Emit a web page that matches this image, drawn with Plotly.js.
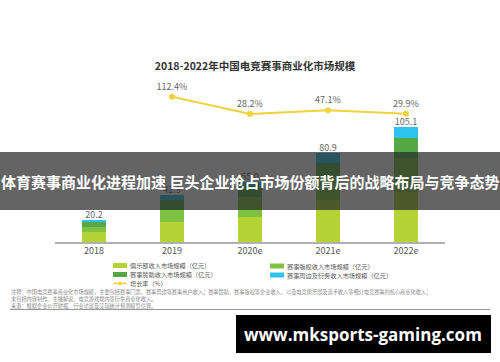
<!DOCTYPE html>
<html>
<head>
<meta charset="utf-8">
<script src="https://cdn.plot.ly/plotly-3.0.1.min.js"></script>
<style>html,body{margin:0;padding:0;background:#fff;}#chart{width:500px;height:362px;}</style>
</head>
<body>
<div id="chart"></div>
<script>
// ---- data ----
const categories = ['2018', '2019', '2020e', '2021e', '2022e'];
const clubRevenue = [9.0, 18.3, 22.8, 38.0, 46.1];
const copyrightRevenue = [5.0, 10.8, 18.3, 21.0, 31.0];
const sponsorRevenue = [4.6, 9.2, 10.5, 13.5, 18.0];
const merchRevenue = [1.6, 4.6, 3.4, 8.4, 10.0];
const totals = [20.2, 42.9, 55.0, 80.9, 105.1];
const growthRate = [null, 112.4, 28.2, 47.1, 29.9];
const seriesNames = ['俱乐部收入市场规模（亿元）', '赛事版权收入市场规模（亿元）', '赛事赞助收入市场规模（亿元）', '赛事周边及衍务收入市场规模（亿元）', '增长率（%）'];
const titleText = '2018-2022年中国电竞赛事商业化市场规模';
const bannerText = '体育赛事商业化进程加速 巨头企业抢占市场份额背后的战略布局与竞争态势';
const noteLines = [
  '注释：中国电竞赛事商业化市场规模，主要包括赛事门票、赛事周边等赛事用户收入；赛事赞助、赛事版权等企业收入，以及电竞俱乐部及选手收入等细分电竞赛事的核心商业化收入；',
  '未包括内容制作、主播解说、电竞游戏端内等衍生商业化收入。',
  '来源：根据企业公开财报、行业访谈及艾瑞统计预测模型估算。'
];
const watermark = 'www.mksports-gaming.com';

// ---- styles ----
const colors = ['#b5d334', '#7dc242', '#55a845', '#2ec4ee', '#f2d23c'];
const FONT = '"Noto Sans CJK SC", "Noto Sans", sans-serif';
const W = 500, H = 362, ML = 55, MR = 55, MT = 82, MB = 120;
const PW = W - ML - MR, PH = H - MT - MB;
const px = x => (x - ML) / PW;
const py = y => (H - MB - y) / PH;

const barSeries = [clubRevenue, copyrightRevenue, sponsorRevenue, merchRevenue];
const traces = barSeries.map((vals, i) => ({
  type: 'bar', x: categories, y: vals, name: seriesNames[i],
  marker: {color: colors[i]}, hoverinfo: 'x+y+name', showlegend: false
}));
traces.push({
  type: 'scatter', mode: 'text', x: categories, y: totals,
  text: totals.map(v => v.toFixed(1)), textposition: 'top center',
  textfont: {family: FONT, size: 9, color: '#666'}, showlegend: false, hoverinfo: 'skip'
});
traces.push({
  type: 'scatter', mode: 'lines+markers+text', x: categories, y: growthRate, yaxis: 'y2',
  name: seriesNames[4], line: {color: colors[4], width: 2}, marker: {color: colors[4], size: 6},
  text: growthRate.map(v => v == null ? '' : v.toFixed(1) + '%'), textposition: 'top center',
  textfont: {family: FONT, size: 9, color: '#666'}, showlegend: false, connectgaps: false
});

// y scales
const yPerPx = 1 / 1.095;
const yMax = PH * yPerPx;
const g0Px = 122.2, gScale = 0.205; // px from plot bottom of 0%, px per %
const y2Range = [-g0Px / gScale, (PH - g0Px) / gScale];

const shapes = [];
const annotations = [];
// banner overlay
shapes.push({type: 'rect', xref: 'paper', yref: 'paper', x0: px(0), x1: px(500), y0: py(210), y1: py(152),
  fillcolor: 'rgba(40,40,40,0.72)', line: {width: 0}, layer: 'above'});
annotations.push({xref: 'paper', yref: 'paper', x: px(250), y: py(181), text: '<b>' + bannerText + '</b>',
  showarrow: false, font: {family: FONT, size: 15, color: '#ffffff'}, xanchor: 'center', yanchor: 'middle'});

// legend (manual): two columns
const legendItems = [
  {i: 0, x: 113, y: 265.5}, {i: 2, x: 113, y: 274.5}, {i: 4, x: 113, y: 283.5},
  {i: 1, x: 270, y: 266}, {i: 3, x: 270, y: 275}
];
legendItems.forEach(it => {
  if (it.i < 4) {
    shapes.push({type: 'rect', xref: 'paper', yref: 'paper', x0: px(it.x), x1: px(it.x + 14), y0: py(it.y + 2.5), y1: py(it.y - 2.5),
      fillcolor: colors[it.i], line: {width: 0}});
  } else {
    shapes.push({type: 'line', xref: 'paper', yref: 'paper', x0: px(it.x), x1: px(it.x + 14), y0: py(it.y), y1: py(it.y),
      line: {color: colors[4], width: 1.5}});
    shapes.push({type: 'circle', xref: 'paper', yref: 'paper', x0: px(it.x + 5), x1: px(it.x + 9), y0: py(it.y + 2), y1: py(it.y - 2),
      fillcolor: colors[4], line: {width: 0}});
  }
  annotations.push({xref: 'paper', yref: 'paper', x: px(it.x + 16), y: py(it.y), text: seriesNames[it.i],
    showarrow: false, xanchor: 'left', yanchor: 'middle', borderpad: 0,
    font: {family: FONT, size: 6.2, color: '#555'}});
});

// footnotes
noteLines.forEach((t, k) => {
  annotations.push({xref: 'paper', yref: 'paper', x: px(10), y: py(292 + k * 6.8), text: t, showarrow: false,
    xanchor: 'left', yanchor: 'middle', borderpad: 0, font: {family: FONT, size: 5.2, color: '#888'}});
});
shapes.push({type: 'line', xref: 'paper', yref: 'paper', x0: px(10), x1: px(490), y0: py(309.5), y1: py(309.5),
  line: {color: '#999', width: 1}});

// watermark
shapes.push({type: 'rect', xref: 'paper', yref: 'paper', x0: px(236), x1: px(491), y0: py(353), y1: py(315),
  fillcolor: '#000000', line: {width: 0}, layer: 'above'});
annotations.push({xref: 'paper', yref: 'paper', x: px(363), y: py(334), text: '<b>' + watermark + '</b>', showarrow: false,
  xanchor: 'center', yanchor: 'middle', font: {family: '"Open Sans", sans-serif', size: 17, color: '#ffffff'}});

const layout = {
  width: W, height: H,
  margin: {l: ML, r: MR, t: MT, b: MB, pad: 0},
  paper_bgcolor: '#ffffff', plot_bgcolor: '#ffffff',
  barmode: 'stack', bargap: 0.69,
  showlegend: false,
  title: {text: '<b>' + titleText + '</b>', x: px(255), xref: 'paper', xanchor: 'center',
    y: 1 - 66.5 / H, yref: 'container', yanchor: 'middle',
    font: {family: FONT, size: 10.5, color: '#333'}},
  xaxis: {type: 'category', range: [-0.5, 4.5], showline: true, linecolor: '#b0b0b0', linewidth: 1.5,
    ticks: '', showgrid: false, zeroline: false, tickfont: {family: FONT, size: 9, color: '#555'}, fixedrange: true},
  yaxis: {range: [0, yMax], visible: false, showgrid: false, zeroline: false, fixedrange: true},
  yaxis2: {range: y2Range, overlaying: 'y', visible: false, showgrid: false, zeroline: false, fixedrange: true},
  shapes: shapes, annotations: annotations
};

Plotly.newPlot('chart', traces, layout, {displayModeBar: false, staticPlot: true});
</script>
</body>
</html>
